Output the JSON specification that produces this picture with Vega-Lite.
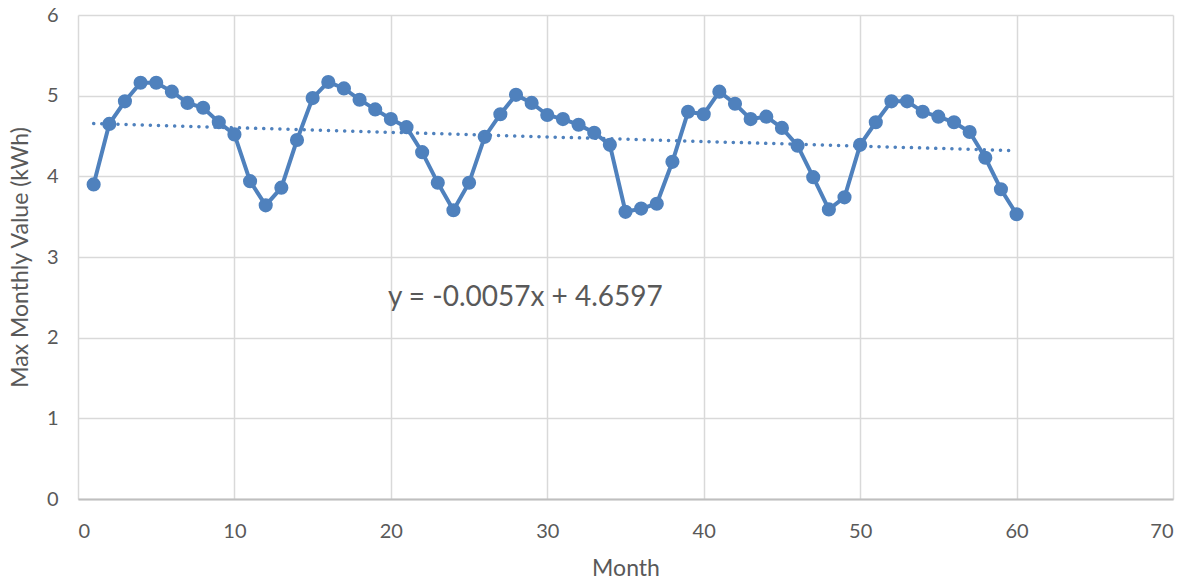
{
  "$schema": "https://vega.github.io/schema/vega-lite/v6.json",
  "width": 1095,
  "height": 484,
  "autosize": {"type": "none"},
  "padding": {"left": 78, "top": 15, "right": 22, "bottom": 82},
  "background": "white",
  "config": {
    "view": {"stroke": null},
    "font": "Lato",
    "axis": {
      "labelFont": "Lato",
      "titleFont": "Lato",
      "labelColor": "#595959",
      "titleColor": "#595959",
      "labelFontSize": 20,
      "titleFontSize": 23,
      "titleFontWeight": "normal",
      "gridColor": "#d9d9d9",
      "gridWidth": 1.5,
      "ticks": false,
      "domain": false
    }
  },
  "datasets": {
    "series": [
      {"month": 1, "value": 3.9}, {"month": 2, "value": 4.65}, {"month": 3, "value": 4.93},
      {"month": 4, "value": 5.16}, {"month": 5, "value": 5.16}, {"month": 6, "value": 5.05},
      {"month": 7, "value": 4.91}, {"month": 8, "value": 4.85}, {"month": 9, "value": 4.67},
      {"month": 10, "value": 4.52}, {"month": 11, "value": 3.94}, {"month": 12, "value": 3.64},
      {"month": 13, "value": 3.86}, {"month": 14, "value": 4.45}, {"month": 15, "value": 4.97},
      {"month": 16, "value": 5.17}, {"month": 17, "value": 5.09}, {"month": 18, "value": 4.95},
      {"month": 19, "value": 4.83}, {"month": 20, "value": 4.71}, {"month": 21, "value": 4.61},
      {"month": 22, "value": 4.3}, {"month": 23, "value": 3.92}, {"month": 24, "value": 3.58},
      {"month": 25, "value": 3.92}, {"month": 26, "value": 4.49}, {"month": 27, "value": 4.77},
      {"month": 28, "value": 5.01}, {"month": 29, "value": 4.91}, {"month": 30, "value": 4.76},
      {"month": 31, "value": 4.71}, {"month": 32, "value": 4.64}, {"month": 33, "value": 4.54},
      {"month": 34, "value": 4.39}, {"month": 35, "value": 3.56}, {"month": 36, "value": 3.6},
      {"month": 37, "value": 3.66}, {"month": 38, "value": 4.18}, {"month": 39, "value": 4.8},
      {"month": 40, "value": 4.77}, {"month": 41, "value": 5.05}, {"month": 42, "value": 4.9},
      {"month": 43, "value": 4.71}, {"month": 44, "value": 4.74}, {"month": 45, "value": 4.6},
      {"month": 46, "value": 4.38}, {"month": 47, "value": 3.99}, {"month": 48, "value": 3.59},
      {"month": 49, "value": 3.74}, {"month": 50, "value": 4.39}, {"month": 51, "value": 4.67},
      {"month": 52, "value": 4.93}, {"month": 53, "value": 4.93}, {"month": 54, "value": 4.8},
      {"month": 55, "value": 4.74}, {"month": 56, "value": 4.67}, {"month": 57, "value": 4.55},
      {"month": 58, "value": 4.23}, {"month": 59, "value": 3.84}, {"month": 60, "value": 3.53}
    ],
    "trend": [
      {"month": 1, "value": 4.654},
      {"month": 60, "value": 4.3177}
    ],
    "label": [
      {"month": 28.6, "value": 2.49, "text": "y = -0.0057x + 4.6597"}
    ]
  },
  "layer": [
    {
      "data": {"name": "series"},
      "mark": {"type": "line", "color": "#4F81BD", "strokeWidth": 4},
      "encoding": {
        "x": {
          "field": "month", "type": "quantitative",
          "scale": {"domain": [0, 70], "nice": false, "zero": true},
          "axis": {"title": "Month", "values": [0, 10, 20, 30, 40, 50, 60, 70], "format": "d", "labelPadding": 22, "titlePadding": 16, "grid": true, "domain": true, "domainColor": "#bfbfbf", "domainWidth": 2}
        },
        "y": {
          "field": "value", "type": "quantitative",
          "scale": {"domain": [0, 6], "nice": false},
          "axis": {"title": "Max Monthly Value (kWh)", "values": [0, 1, 2, 3, 4, 5, 6], "format": "d", "labelPadding": 20, "titlePadding": 14, "grid": true}
        }
      }
    },
    {
      "data": {"name": "series"},
      "mark": {"type": "point", "shape": "circle", "filled": true, "size": 200, "color": "#4F81BD", "opacity": 1},
      "encoding": {
        "x": {"field": "month", "type": "quantitative"},
        "y": {"field": "value", "type": "quantitative"}
      }
    },
    {
      "data": {"name": "trend"},
      "mark": {"type": "line", "color": "#4F81BD", "strokeWidth": 3.5, "strokeDash": [0.1, 8], "strokeCap": "round"},
      "encoding": {
        "x": {"field": "month", "type": "quantitative"},
        "y": {"field": "value", "type": "quantitative"}
      }
    },
    {
      "data": {"name": "label"},
      "mark": {"type": "text", "font": "Lato", "fontSize": 28, "color": "#595959", "align": "center", "baseline": "middle"},
      "encoding": {
        "x": {"field": "month", "type": "quantitative"},
        "y": {"field": "value", "type": "quantitative"},
        "text": {"field": "text"}
      }
    }
  ]
}
